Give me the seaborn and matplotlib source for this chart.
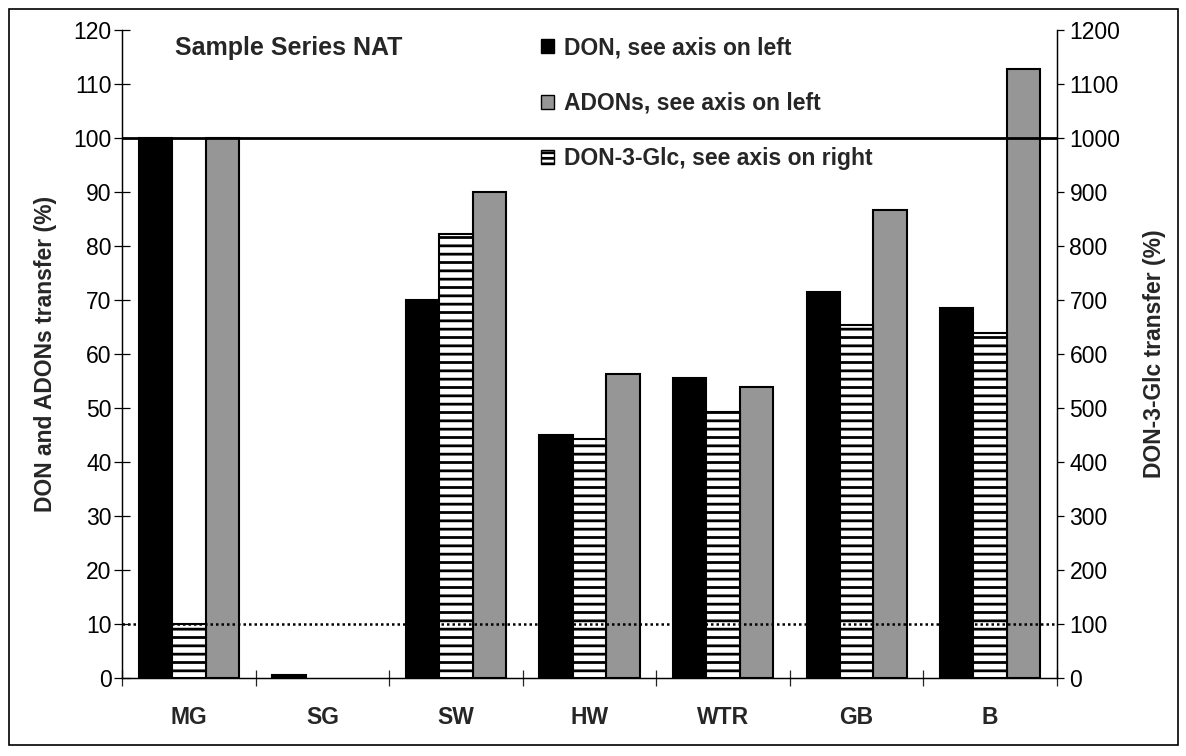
import matplotlib
matplotlib.use('Agg')
import matplotlib.pyplot as plt
import matplotlib.patches as mpatches
import seaborn as sns
import numpy as np
import pandas as pd

# data
categories = ['MG', 'SG', 'SW', 'HW', 'WTR', 'GB', 'B']
don = [100, 0.5, 70, 45, 55.5, 71.5, 68.5]            # left axis (%)
adons = [100, 0, 90, 56.3, 53.8, 86.7, 112.8]          # left axis (%)
don3glc = [100, 0, 823, 443, 493, 653, 638]            # right axis (%)

series = ['DON, see axis on left', 'DON-3-Glc, see axis on right', 'ADONs, see axis on left']

# long tables: left axis holds DON/ADONs, right axis holds DON-3-Glc
rows_left = []
rows_right = []
for i, cat in enumerate(categories):
    rows_left.append((cat, series[0], don[i]))
    rows_left.append((cat, series[1], np.nan))
    rows_left.append((cat, series[2], adons[i]))
    rows_right.append((cat, series[0], np.nan))
    rows_right.append((cat, series[1], don3glc[i]))
    rows_right.append((cat, series[2], np.nan))
df_left = pd.DataFrame(rows_left, columns=['sample', 'series', 'value'])
df_right = pd.DataFrame(rows_right, columns=['sample', 'series', 'value'])

sns.set_style('white')
plt.rcParams['font.family'] = ['Liberation Sans', 'DejaVu Sans']
plt.rcParams['hatch.linewidth'] = 2.0
plt.rcParams['hatch.color'] = 'black'

FS = 16.5
grey = '#969696'
palette = {series[0]: 'black', series[1]: 'white', series[2]: grey}

fig = plt.figure(figsize=(11.86, 7.56), dpi=100)
ax = fig.add_axes([0.1029, 0.1032, 0.7883, 0.8571])
ax2 = ax.twinx()

sns.barplot(data=df_left, x='sample', y='value', hue='series', hue_order=series,
            order=categories, palette=palette, width=0.75, edgecolor='black',
            linewidth=1.5, saturation=1, errorbar=None, legend=False, ax=ax)
sns.barplot(data=df_right, x='sample', y='value', hue='series', hue_order=series,
            order=categories, palette=palette, width=0.75, edgecolor='black',
            linewidth=1.5, saturation=1, errorbar=None, legend=False, ax=ax2)
for p in ax2.patches:
    p.set_hatch('--')
# zero-height bars are not drawn in the original
for a in (ax, ax2):
    for p in a.patches:
        if not p.get_height() > 0:
            p.set_visible(False)

ax.set_ylim(0, 120)
ax2.set_ylim(0, 1200)
ax.set_xlim(-0.5, len(categories) - 0.5)
ax.set_yticks(np.arange(0, 121, 10))
ax2.set_yticks(np.arange(0, 1201, 100))

# reference lines
ax2.axhline(1000, color='black', lw=2, zorder=5)
ax2.axhline(100, color='black', lw=1.8, ls=(0, (1, 1.2)), zorder=5)

# spines
for a in (ax, ax2):
    a.spines['top'].set_visible(False)
    for s in ('left', 'right', 'bottom'):
        a.spines[s].set_color('black')
        a.spines[s].set_linewidth(0.9)

# ticks
ax.tick_params(axis='y', direction='inout', length=11, width=0.9, labelsize=FS,
               left=True, pad=2, colors='black')
ax2.tick_params(axis='y', direction='out', length=5, width=0.9, labelsize=FS,
                right=True, pad=4, colors='black')
ax.set_xticks(np.arange(-0.5, len(categories), 1.0))
ax.set_xticklabels([])
ax.set_xticks(np.arange(len(categories)), minor=True)
ax.set_xticklabels(categories, minor=True, fontweight='bold', fontsize=FS)
ax.tick_params(axis='x', which='major', direction='inout', length=12, width=0.9,
               bottom=True)
ax.tick_params(axis='x', which='minor', length=0, pad=20)

ax.set_xlabel('')
ax.set_ylabel('DON and ADONs transfer (%)', fontweight='bold', fontsize=FS, labelpad=12)
ax2.set_ylabel('DON-3-Glc transfer (%)', fontweight='bold', fontsize=FS, labelpad=16)

ax.text(0.057, 0.972, 'Sample Series NAT', transform=ax.transAxes, fontsize=18,
        fontweight='bold', va='center', ha='left')

handles = [mpatches.Patch(facecolor='black', edgecolor='black', label=series[0]),
           mpatches.Patch(facecolor=grey, edgecolor='black', label=series[2]),
           mpatches.Patch(facecolor='white', edgecolor='black', hatch='---', label=series[1])]
leg = ax2.legend(handles=handles, loc='upper left', bbox_to_anchor=(0.436, 1.008),
                 frameon=False, handlelength=0.55, handleheight=0.55, handletextpad=0.45,
                 labelspacing=1.42, borderpad=0, prop={'weight': 'bold', 'size': FS})

# outer frame around the figure
fig.patches.append(mpatches.Rectangle((0.0076, 0.0145), 0.986, 0.974, transform=fig.transFigure,
                                      fill=False, edgecolor='black', lw=1.2))

fig.savefig('out.png', dpi=100)
